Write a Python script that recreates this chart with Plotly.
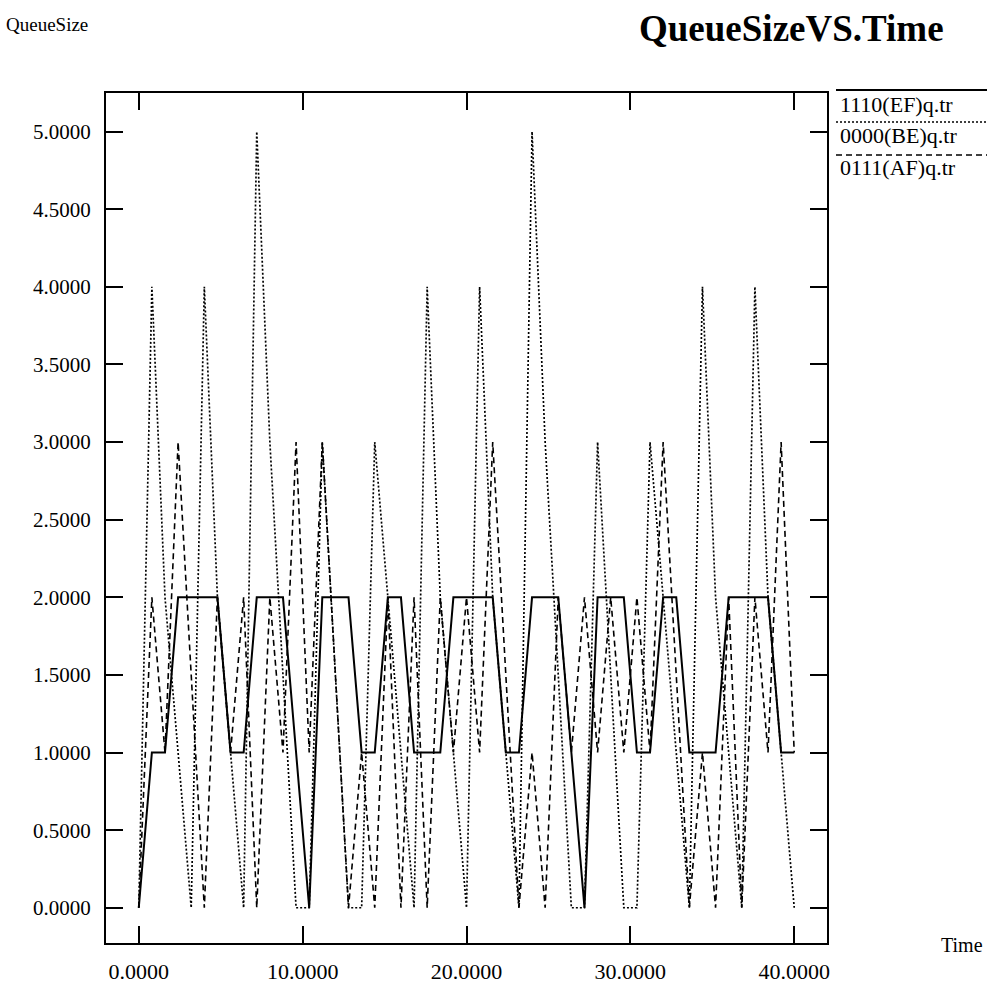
import plotly.graph_objects as go

# ---- data ----
time = [0.0, 0.8, 1.6, 2.4, 3.2, 4.0, 4.8, 5.6, 6.4, 7.2,
        8.0, 8.8, 9.6, 10.4, 11.2, 12.0, 12.8, 13.6, 14.4, 15.2,
        16.0, 16.8, 17.6, 18.4, 19.2, 20.0, 20.8, 21.6, 22.4, 23.2,
        24.0, 24.8, 25.6, 26.4, 27.2, 28.0, 28.8, 29.6, 30.4, 31.2,
        32.0, 32.8, 33.6, 34.4, 35.2, 36.0, 36.8, 37.6, 38.4, 39.2, 40.0]

ef_queue = [0, 1, 1, 2, 2, 2, 2, 1, 1, 2,
            2, 2, 1, 0, 2, 2, 2, 1, 1, 2,
            2, 1, 1, 1, 2, 2, 2, 2, 1, 1,
            2, 2, 2, 1, 0, 2, 2, 2, 1, 1,
            2, 2, 1, 1, 1, 2, 2, 2, 2, 1, 1]

be_queue = [0, 4, 2, 1, 0, 4, 2, 1, 0, 5,
            3, 1.5, 0, 0, 3, 1.5, 0, 0, 3, 2,
            1, 0, 4, 2, 1, 0, 4, 2, 1, 0,
            5, 3, 1.5, 0, 0, 3, 1.5, 0, 0, 3,
            2, 1, 0, 4, 2, 1, 0, 4, 2, 1, 0]

af_queue = [0, 2, 1, 3, 1.5, 0, 2, 1, 2, 0,
            2, 1, 3, 1, 3, 1.5, 0, 1, 0, 2,
            0, 2, 0, 2, 1, 2, 1, 3, 1.5, 0,
            1, 0, 2, 1, 2, 1, 2, 1, 2, 1,
            3, 1.5, 0, 1, 0, 2, 0, 2, 1, 3, 1]

series_names = ["1110(EF)q.tr", "0000(BE)q.tr", "0111(AF)q.tr"]
x_ticks = [0, 10, 20, 30, 40]
y_ticks = [0, 0.5, 1.0, 1.5, 2.0, 2.5, 3.0, 3.5, 4.0, 4.5, 5.0]

# ---- layout geometry (pixels) ----
WIDTH, HEIGHT = 987, 985
L, R, T, B = 106, 827, 93, 943
PW, PH = R - L, B - T


def px(X):
    return (X - L) / PW


def py(Y):
    return (B - Y) / PH


FONT = "Liberation Serif, Times New Roman, serif"
DOT = "2px,2px"
DASH = "6px,4px"

fig = go.Figure()
fig.add_trace(go.Scatter(x=time, y=ef_queue, mode="lines", name=series_names[0],
                         line=dict(color="black", width=2, dash="solid")))
fig.add_trace(go.Scatter(x=time, y=be_queue, mode="lines", name=series_names[1],
                         line=dict(color="black", width=1.7, dash=DOT)))
fig.add_trace(go.Scatter(x=time, y=af_queue, mode="lines", name=series_names[2],
                         line=dict(color="black", width=1.6, dash=DASH)))

fig.update_layout(
    width=WIDTH, height=HEIGHT,
    margin=dict(l=L, r=WIDTH - R, t=T, b=HEIGHT - B, pad=0, autoexpand=False),
    paper_bgcolor="white", plot_bgcolor="white",
    showlegend=False,
    font=dict(family=FONT, size=21, color="black"),
)
fig.update_xaxes(
    range=[-2.0, 42.0], tickvals=x_ticks, tickformat=".4f",
    automargin=False,
    showgrid=False, zeroline=False,
    showline=True, linecolor="black", linewidth=2, mirror="ticks",
    ticks="inside", ticklen=17, tickwidth=2, tickcolor="black",
    ticklabelstandoff=8,
    tickfont=dict(family=FONT, size=22, color="black"),
)
fig.update_yaxes(
    range=[-0.227, 5.249], tickvals=y_ticks, tickformat=".4f",
    automargin=False,
    showgrid=False, zeroline=False,
    showline=True, linecolor="black", linewidth=2, mirror="ticks",
    ticks="inside", ticklen=17, tickwidth=2, tickcolor="black",
    ticklabelstandoff=9,
    tickfont=dict(family=FONT, size=21, color="black"),
)

# title and axis labels
fig.add_annotation(text="<b>QueueSizeVS.Time</b>", xref="paper", yref="paper",
                   x=px(946), y=py(28), xanchor="right", yanchor="middle",
                   showarrow=False, font=dict(family=FONT, size=37, color="black"))
fig.add_annotation(text="QueueSize", xref="paper", yref="paper",
                   x=px(4), y=py(25), xanchor="left", yanchor="middle",
                   showarrow=False, font=dict(family=FONT, size=19, color="black"))
fig.add_annotation(text="Time", xref="paper", yref="paper",
                   x=px(985), y=py(945), xanchor="right", yanchor="middle",
                   showarrow=False, font=dict(family=FONT, size=20, color="black"))

# legend drawn xgraph-style: a line above each name
legend_rows = [(90, 104, "solid"), (122, 136, DOT), (155, 167, DASH)]
for (ly, ty, dash), name in zip(legend_rows, series_names):
    fig.add_shape(type="line", xref="paper", yref="paper",
                  x0=px(836), x1=px(987), y0=py(ly), y1=py(ly),
                  line=dict(color="black", width=2 if dash == "solid" else 1.6, dash=dash))
    fig.add_annotation(text=name, xref="paper", yref="paper",
                       x=px(838), y=py(ty), xanchor="left", yanchor="middle",
                       showarrow=False, font=dict(family=FONT, size=22, color="black"))

fig.write_html("out.html", config={"displayModeBar": False},
               post_script="document.body.style.margin='0px';document.body.style.overflow='hidden';")
